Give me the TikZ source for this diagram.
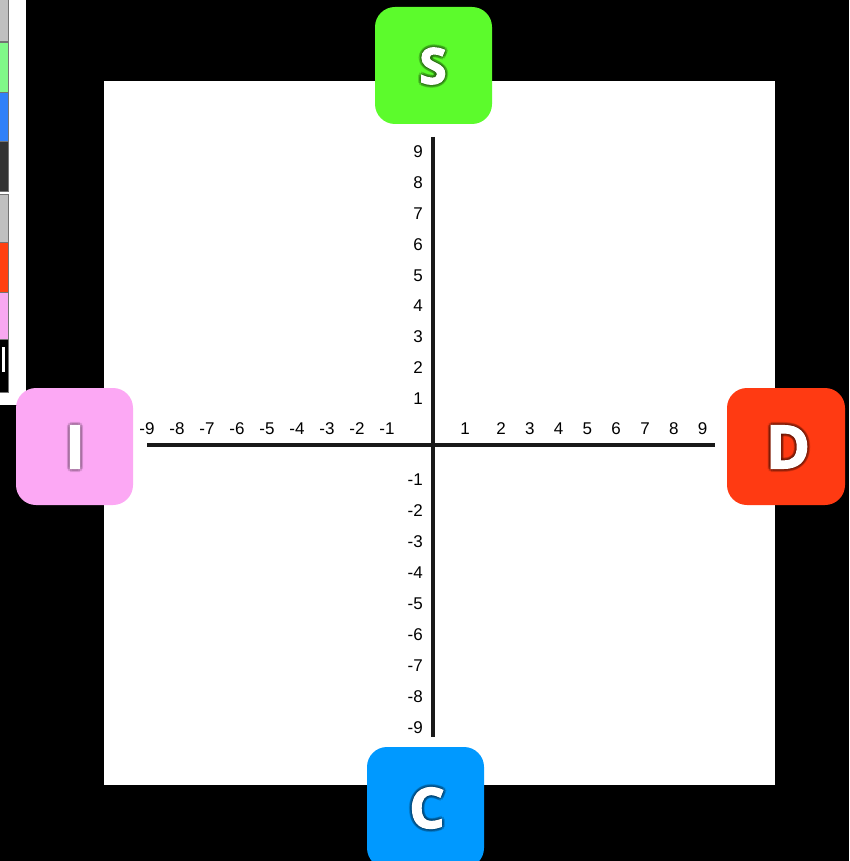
\documentclass[tikz,border=0pt]{standalone}
\usepackage{fontspec}
\setmainfont{Liberation Sans}
\newfontfamily\bigf{Open Sans}[BoldFeatures={FakeBold=2}]
\definecolor{sgreen}{HTML}{5CFB2C}
\definecolor{ipink}{HTML}{FCA8F4}
\definecolor{dred}{HTML}{FF3A12}
\definecolor{cblue}{HTML}{0099FF}
\definecolor{cellgrey}{HTML}{C0C0C0}
\definecolor{cellgreen}{HTML}{80F888}
\definecolor{cellblue}{HTML}{3080F8}
\definecolor{celldark}{HTML}{333333}
\definecolor{cellorange}{HTML}{FF4010}
\definecolor{cellpink}{HTML}{F8A8F0}
\tikzset{
  num/.style={inner sep=0pt, font=\fontsize{17}{17}\selectfont},
  axis/.style={line width=3.2pt, black!90},
  tile/.style={rounded corners=20pt},
  cell/.style={draw=black!55, line width=0.8pt},
  letter/.style={inner sep=0pt, text=white},
}
\newcommand{\glowletter}[6]{% name, x, y, size, shadow colour, text
  \foreach \dx/\dy in {-3/0,3/0,0/-3,0/3,-2/-2,2/2,-2/2,2/-2,-1.5/0,1.5/0,0/1.5,0/-1.5}{
    \node[letter, text=#5, opacity=0.18, font=\bigf\bfseries\fontsize{#4}{#4}\selectfont] at ({#2+\dx},{#3+\dy}) {#6};
  }
  \node[letter, font=\bigf\bfseries\fontsize{#4}{#4}\selectfont] (#1) at (#2,#3) {#6};
}
\begin{document}
\begin{tikzpicture}[x=1pt,y=-1pt]
\fill[black] (0,0) rectangle (849,861);
\useasboundingbox (0,0) rectangle (849,861);
% white plot square
\fill[white] (104,81) rectangle (775,785);
% top-left palette strip
\fill[white] (0,0) rectangle (26,405);
\fill[cell, fill=cellgrey]   (-2,-2) rectangle (8,41);
\fill[cell, fill=cellgreen]  (-2,42) rectangle (8,92);
\fill[cell, fill=cellblue]   (-2,92) rectangle (8,141);
\fill[cell, fill=celldark]   (-2,141) rectangle (8,191);
\fill[cell, fill=cellgrey]   (-2,194) rectangle (8,242);
\fill[cell, fill=cellorange] (-2,242) rectangle (8,292);
\fill[cell, fill=cellpink]   (-2,292) rectangle (8,339);
\fill[cell, fill=black]      (-2,339) rectangle (8,392);
\draw[cell] (-2,-2) rectangle (8,41);
\draw[cell] (-2,42) rectangle (8,92);
\draw[cell] (-2,92) rectangle (8,141);
\draw[cell] (-2,141) rectangle (8,191);
\draw[cell] (-2,194) rectangle (8,242);
\draw[cell] (-2,242) rectangle (8,292);
\draw[cell] (-2,292) rectangle (8,339);
\draw[cell] (-2,339) rectangle (8,392);
\fill[white] (2,347) rectangle (5,372);
% axes
\coordinate (xl) at (147,445);
\coordinate (xr) at (715,445);
\coordinate (yt) at (433,137);
\coordinate (yb) at (433,737);
\draw[axis] (xl) -- (xr);
\draw[axis] (yt) -- (yb);
% vertical labels
\foreach \i in {1,...,9}{
  \node[num, anchor=east] (vp\i) at (423,{398.5-30.8*(\i-1)}) {\i};
  \node[num, anchor=east] (vn\i) at (423,{479.5+31*(\i-1)}) {-\i};
}
% horizontal labels
\foreach \i in {1,...,9}{
  \node[num] (hn\i) at ({387-30*(\i-1)},429) {-\i};
}
\node[num] (hp1) at (465,429) {1};
\foreach \i in {2,...,9}{
  \node[num] (hp\i) at ({501+28.8*(\i-2)},429) {\i};
}
% tiles
\fill[tile, sgreen] (375,7) rectangle (492,124);
\fill[tile, ipink]  (16,388) rectangle (133,505);
\fill[tile, dred]   (727,388) rectangle (845,505);
\fill[tile, cblue]  (367,747) rectangle (484,868);
\glowletter{S}{433}{66}{50}{black!70!sgreen}{S}
\glowletter{I}{75}{447}{60}{black!50!ipink}{I}
\glowletter{D}{788}{447}{60}{black!70!dred}{D}
\glowletter{C}{427}{808}{56}{black!70!cblue}{C}
\end{tikzpicture}
\end{document}
